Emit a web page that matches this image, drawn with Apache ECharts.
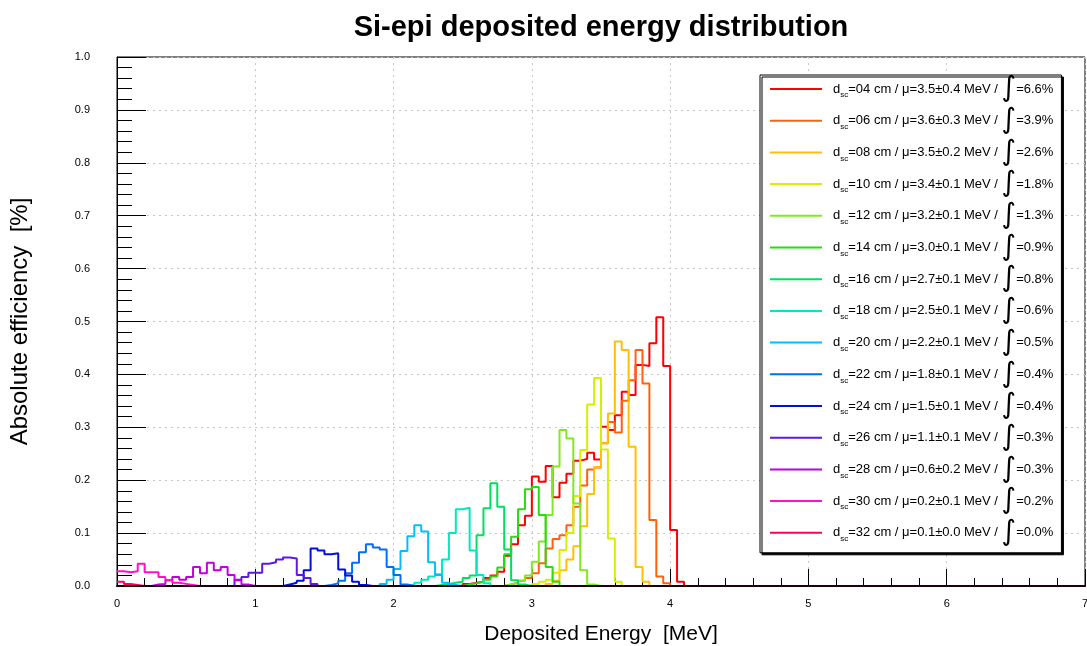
<!DOCTYPE html>
<html>
<head>
<meta charset="utf-8">
<script src="https://cdn.jsdelivr.net/npm/echarts@6/dist/echarts.min.js"></script>
<style>
  html, body { margin: 0; padding: 0; background: #fff; }
  #chart { width: 1087px; height: 646px; }
</style>
</head>
<body>
<div id="chart"></div>
<script>
// bin width of every histogram (MeV)
const BIN = 0.05;
const NBINS = 140; // 0 .. 7 MeV

// legend info, one entry per scintillator distance
const distances = ['04', '06', '08', '10', '12', '14', '16', '18', '20', '22', '24', '26', '28', '30', '32'];
const means = ['3.5±0.4', '3.6±0.3', '3.5±0.2', '3.4±0.1', '3.2±0.1', '3.0±0.1', '2.7±0.1', '2.5±0.1',
               '2.2±0.1', '1.8±0.1', '1.5±0.1', '1.1±0.1', '0.6±0.2', '0.2±0.1', '0.1±0.0'];
const integrals = ['6.6', '3.9', '2.6', '1.8', '1.3', '0.9', '0.8', '0.6', '0.5', '0.4', '0.4', '0.3', '0.3', '0.2', '0.0'];
const colors = ['#ff0000', '#ff6010', '#ffc000', '#d4f000', '#80e820', '#28dc10', '#00e060', '#00e8c0',
                '#00c0f8', '#0070f0', '#0010d8', '#6018e0', '#c000e0', '#ff10c8', '#ff0060'];

// lower edge (MeV) of the first non-empty bin of each histogram
const firstBin = [2.5, 2.8, 3.1, 3.0, 2.8, 2.5, 2.3, 2.1, 1.9, 1.5, 1.2, 0.85, 0.25, 0.0, 0.0];

// bin contents [%]
const h04 = [0.004, 0.006, 0.008, 0.015, 0.020, 0.027, 0.057, 0.079, 0.115, 0.133, 0.207, 0.197, 0.227, 0.168, 0.195, 0.212,
             0.237, 0.240, 0.252, 0.239, 0.301, 0.295, 0.323, 0.367, 0.361, 0.418, 0.416, 0.459, 0.508, 0.416, 0.106, 0.008];
const h06 = [0.003, 0.006, 0.010, 0.015, 0.024, 0.043, 0.071, 0.089, 0.096, 0.115, 0.150, 0.190, 0.220, 0.224, 0.270, 0.310,
             0.290, 0.350, 0.389, 0.446, 0.383, 0.125, 0.018, 0.005];
const h08 = [0.004, 0.010, 0.030, 0.050, 0.075, 0.113, 0.174, 0.225, 0.270, 0.326, 0.462, 0.446, 0.263, 0.036, 0.008];
const h10 = [0.004, 0.008, 0.012, 0.025, 0.068, 0.100, 0.170, 0.257, 0.343, 0.393, 0.258, 0.090, 0.008];
const h12 = [0.003, 0.006, 0.010, 0.020, 0.046, 0.084, 0.134, 0.226, 0.295, 0.279, 0.156, 0.030, 0.003];
const h14 = [0.003, 0.005, 0.008, 0.012, 0.018, 0.035, 0.060, 0.093, 0.145, 0.183, 0.187, 0.134, 0.036, 0.008];
const h16 = [0.002, 0.004, 0.006, 0.008, 0.015, 0.020, 0.096, 0.147, 0.194, 0.150, 0.069, 0.011, 0.003];
const h18 = [0.002, 0.006, 0.012, 0.018, 0.022, 0.050, 0.100, 0.145, 0.148, 0.067, 0.021, 0.005];
const h20 = [0.004, 0.012, 0.032, 0.066, 0.094, 0.115, 0.103, 0.045, 0.021, 0.006, 0.002];
const h22 = [0.002, 0.005, 0.010, 0.024, 0.044, 0.064, 0.079, 0.073, 0.069, 0.036, 0.021, 0.003];
const h24 = [0.003, 0.006, 0.010, 0.030, 0.071, 0.067, 0.060, 0.062, 0.031, 0.020, 0.008, 0.002];
const h26 = [0.012, 0.017, 0.025, 0.025, 0.042, 0.045, 0.050, 0.054, 0.052, 0.021, 0.015, 0.004];
const h28 = [0.003, 0.004, 0.011, 0.017, 0.012, 0.017, 0.036, 0.024, 0.044, 0.030, 0.036, 0.021, 0.011, 0.003];
const h30 = [0.028, 0.026, 0.028, 0.042, 0.026, 0.026, 0.017, 0.011, 0.006, 0.004, 0.002];
const h32 = [0.008, 0.004, 0.002];

const hists = [h04, h06, h08, h10, h12, h14, h16, h18, h20, h22, h24, h26, h28, h30, h32];

// full 0-7 MeV histogram (empty bins are zero), drawn as a step line
function histData(vals, start) {
  const s = Math.round(start / BIN);
  const pts = [];
  for (let i = 0; i < NBINS; i++) {
    const v = (i >= s && i < s + vals.length) ? vals[i - s] : 0;
    pts.push([+(i * BIN).toFixed(2), v]);
  }
  pts.push([NBINS * BIN, 0]);
  return pts;
}

const FONT = '"Liberation Sans", Arial, Helvetica, sans-serif';

const chart = echarts.init(document.getElementById('chart'), null, { renderer: 'canvas' });
chart.setOption({
  animation: false,
  backgroundColor: '#fff',
  // title centred over the frame, not over the canvas
  graphic: [{
    type: 'text',
    x: 601,
    y: 28,
    style: {
      text: 'Si-epi deposited energy distribution',
      align: 'center',
      verticalAlign: 'middle',
      font: 'bold 29px ' + FONT,
      fill: '#000'
    }
  }],
  grid: {
    left: 117, right: 2, top: 57, bottom: 60,
    outerBoundsMode: 'none',
    show: true, borderColor: '#000', borderWidth: 1
  },
  legend: {
    orient: 'vertical',
    left: 760,
    top: 75,
    padding: [0, 8, 6, 10],
    itemGap: 3.7,
    itemWidth: 52,
    itemHeight: 2,
    icon: 'rect',
    selectedMode: false,
    backgroundColor: '#fff',
    borderColor: '#000',
    borderWidth: 1,
    shadowColor: '#000',
    shadowBlur: 0,
    shadowOffsetX: 2,
    shadowOffsetY: 2,
    data: distances,
    formatter: name => {
      const i = distances.indexOf(name);
      return `{d|d}{s|sc}{t|=${name} cm / μ=${means[i]} MeV / }{i|∫}{t|=${integrals[i]}%}`;
    },
    textStyle: {
      fontFamily: FONT,
      fontSize: 13,
      color: '#000',
      rich: {
        d: { fontFamily: FONT, fontSize: 13, lineHeight: 20, padding: [0, 0, 0, 6] },
        s: { fontFamily: FONT, fontSize: 8, lineHeight: 8, verticalAlign: 'bottom' },
        t: { fontFamily: FONT, fontSize: 13, lineHeight: 20 },
        i: { fontFamily: '"DejaVu Sans", sans-serif', fontSize: 28, lineHeight: 20 }
      }
    }
  },
  xAxis: [{
    type: 'value',
    min: 0,
    max: 7,
    interval: 1,
    name: 'Deposited Energy  [MeV]',
    nameLocation: 'middle',
    nameGap: 38,
    nameTextStyle: { fontFamily: FONT, fontSize: 21, color: '#000' },
    axisLine: { lineStyle: { color: '#000', width: 1 } },
    axisTick: { inside: true, length: 17, lineStyle: { color: '#000' } },
    minorTick: { show: true, splitNumber: 5, length: 8, lineStyle: { color: '#000' } },
    axisLabel: { fontFamily: FONT, fontSize: 11, color: '#000', margin: 12 },
    splitLine: { show: true, lineStyle: { color: '#c8c8c8', type: [2, 4] } }
  }, {
    // dark baseline drawn over the zero bins of all histograms
    type: 'value',
    min: 0,
    max: 7,
    position: 'bottom',
    offset: 0,
    z: 10,
    axisLine: { show: true, onZero: false, lineStyle: { color: '#1a0010', width: 2 } },
    axisTick: { show: false },
    axisLabel: { show: false },
    splitLine: { show: false }
  }],
  yAxis: {
    type: 'value',
    min: 0,
    max: 1,
    interval: 0.1,
    name: 'Absolute efficiency  [%]',
    nameLocation: 'middle',
    nameGap: 85,
    nameTextStyle: { fontFamily: FONT, fontSize: 24, color: '#000' },
    axisLine: { lineStyle: { color: '#000', width: 1 } },
    axisTick: { inside: true, length: 29, lineStyle: { color: '#000' } },
    minorTick: { show: true, splitNumber: 5, length: 15, lineStyle: { color: '#000' } },
    axisLabel: { fontFamily: FONT, fontSize: 11, color: '#000', margin: 27, formatter: v => v.toFixed(1) },
    splitLine: { show: true, lineStyle: { color: '#c8c8c8', type: [2, 4] } }
  },
  series: distances.map((d, k) => ({
    name: d,
    type: 'line',
    step: 'end',
    symbol: 'none',
    xAxisIndex: 0,
    color: colors[k],
    lineStyle: { color: colors[k], width: 2 },
    data: histData(hists[k], firstBin[k])
  }))
});
</script>
</body>
</html>
